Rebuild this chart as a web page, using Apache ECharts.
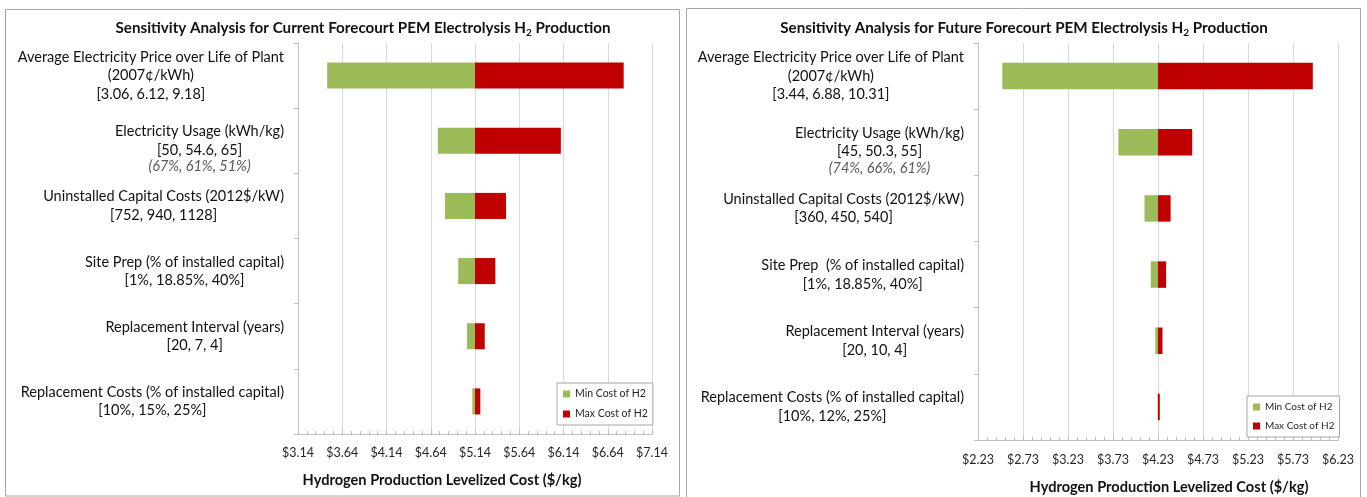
<!DOCTYPE html>
<html><head><meta charset="utf-8">
<script src="https://cdn.jsdelivr.net/npm/echarts@6/dist/echarts.min.js"></script>
<style>html,body{margin:0;padding:0;background:#fff}#c{width:1367px;height:497px}</style>
</head><body><div id="c"></div>
<script>
// ---------- DATA ----------
const leftTitle = 'Sensitivity Analysis for Current Forecourt PEM Electrolysis H{s|2} Production';
const rightTitle = 'Sensitivity Analysis for Future Forecourt PEM Electrolysis H{s|2} Production';
const axisTitle = 'Hydrogen Production Levelized Cost ($/kg)';
const legendNames = ['Min Cost of H2', 'Max Cost of H2'];

const leftCategories = [
  'Average Electricity Price over Life of Plant\n(2007¢/kWh)\n[3.06, 6.12, 9.18]',
  'Electricity Usage (kWh/kg)\n[50, 54.6, 65]',
  'Uninstalled Capital Costs (2012$/kW)\n[752, 940, 1128]',
  'Site Prep (% of installed capital)\n[1%, 18.85%, 40%]',
  'Replacement Interval (years)\n[20, 7, 4]',
  'Replacement Costs (% of installed capital)\n[10%, 15%, 25%]'
];
const leftNotes = ['', '(67%, 61%, 51%)', '', '', '', ''];
const leftBase = 5.14;
const leftMin = [3.47, 4.72, 4.80, 4.95, 5.05, 5.11];
const leftMax = [6.82, 6.11, 5.49, 5.37, 5.25, 5.20];
const leftTicks = [3.14, 3.64, 4.14, 4.64, 5.14, 5.64, 6.14, 6.64, 7.14];

const rightCategories = [
  'Average Electricity Price over Life of Plant\n(2007¢/kWh)\n[3.44, 6.88, 10.31]',
  'Electricity Usage (kWh/kg)\n[45, 50.3, 55]',
  'Uninstalled Capital Costs (2012$/kW)\n[360, 450, 540]',
  'Site Prep  (% of installed capital)\n[1%, 18.85%, 40%]',
  'Replacement Interval (years)\n[20, 10, 4]',
  'Replacement Costs (% of installed capital)\n[10%, 12%, 25%]'
];
const rightNotes = ['', '(74%, 66%, 61%)', '', '', '', ''];
const rightBase = 4.23;
const rightMin = [2.50, 3.79, 4.08, 4.15, 4.20, 4.225];
const rightMax = [5.95, 4.61, 4.37, 4.32, 4.28, 4.25];
const rightTicks = [2.23, 2.73, 3.23, 3.73, 4.23, 4.73, 5.23, 5.73, 6.23];

// ---------- STYLE ----------
const FONT = 'Lato';
const GREEN = '#9BBB59', RED = '#C00000';
const AXIS_GREY = '#bfbfbf', GRID_GREY = '#d9d9d9';

function catFormatter(cats, notes) {
  return function (value, index) {
    const i = cats.indexOf(value);
    const lines = value.split('\n').map(l => '{c|' + l + '}');
    if (notes[i]) return '{b| }\n' + lines.join('\n') + '\n{n|' + notes[i] + '}';
    return lines.join('\n');
  };
}
const labelRich = {
  c: {align: 'center', fontFamily: FONT, fontSize: 14.5, lineHeight: 18.5, color: '#111'},
  b: {align: 'center', fontFamily: FONT, fontSize: 14.5, lineHeight: 15},
  n: {align: 'center', fontFamily: FONT, fontSize: 14.5, lineHeight: 15, fontStyle: 'italic', color: '#595959'}
};

function xAxis(gi, ticks, margin) {
  return {
    type: 'value', gridIndex: gi,
    min: ticks[0], max: ticks[ticks.length - 1], interval: +(ticks[1] - ticks[0]).toFixed(2),
    axisLine: {show: true, lineStyle: {color: AXIS_GREY}},
    axisTick: {show: true, inside: true, length: 4, lineStyle: {color: AXIS_GREY}},
    minorTick: {show: true, splitNumber: 5, length: 3, lineStyle: {color: AXIS_GREY}},
    splitLine: {show: true, lineStyle: {color: GRID_GREY}},
    axisLabel: {fontFamily: FONT, fontSize: 12.5, color: '#262626', margin: margin,
      formatter: v => '$' + v.toFixed(2)}
  };
}
function yAxis(gi, cats, notes) {
  return {
    type: 'category', gridIndex: gi, data: cats, inverse: true,
    axisLine: {show: true, lineStyle: {color: AXIS_GREY}},
    axisTick: {show: true, length: 4, lineStyle: {color: AXIS_GREY}},
    splitLine: {show: false},
    axisLabel: {margin: 14, formatter: catFormatter(cats, notes), rich: labelRich, color: '#111'}
  };
}
function seriesFor(gi, stack, base, mins, maxs) {
  return [
    {type: 'bar', name: '_offset' + gi, xAxisIndex: gi, yAxisIndex: gi, stack: stack,
     data: mins, itemStyle: {color: 'rgba(0,0,0,0)'}, silent: true, barCategoryGap: '60%',
     emphasis: {disabled: true}},
    {type: 'bar', name: legendNames[0], xAxisIndex: gi, yAxisIndex: gi, stack: stack,
     data: mins.map(v => +(base - v).toFixed(4)), itemStyle: {color: GREEN}, barCategoryGap: '60%'},
    {type: 'bar', name: legendNames[1], xAxisIndex: gi, yAxisIndex: gi, stack: stack,
     data: maxs.map(v => +(v - base).toFixed(4)), itemStyle: {color: RED}, barCategoryGap: '60%'}
  ];
}
function legend(left, top, fs, gap) {
  return {
    left: left, top: top, orient: 'vertical', data: legendNames, icon: 'rect',
    itemWidth: 7, itemHeight: 7, itemGap: gap, itemTextGap: 4, padding: [4, 5, 4, 6],
    borderColor: '#a6a6a6', borderWidth: 1, backgroundColor: '#fff', selectedMode: false,
    textStyle: {fontFamily: FONT, fontSize: fs, color: '#262626', lineHeight: 14}
  };
}
function titleText(x, y, text, fs) {
  return {type: 'text', x: x, y: y, silent: true,
    style: {text: text, align: 'center', verticalAlign: 'middle', fill: '#111',
      fontFamily: FONT, fontWeight: 'bold', fontSize: fs, lineHeight: 20,
      rich: {s: {fontFamily: FONT, fontWeight: 'bold', fontSize: 10, lineHeight: 9, verticalAlign: 'bottom', fill: '#111'}}}};
}

const chart = echarts.init(document.getElementById('c'), null, {renderer: 'canvas'});
chart.setOption({
  animation: false,
  backgroundColor: '#fff',
  grid: [
    {left: 298, right: 715, top: 43, bottom: 63, containLabel: false},
    {left: 978, right: 29, top: 43, bottom: 57, containLabel: false}
  ],
  xAxis: [xAxis(0, leftTicks, 12), xAxis(1, rightTicks, 13)],
  yAxis: [yAxis(0, leftCategories, leftNotes), yAxis(1, rightCategories, rightNotes)],
  legend: [legend(557, 383, 10.5, 6), legend(1247, 396, 10, 5)],
  series: [].concat(
    seriesFor(0, 'L', leftBase, leftMin, leftMax),
    seriesFor(1, 'R', rightBase, rightMin, rightMax)
  ),
  graphic: [
    {type: 'rect', silent: true, shape: {x: 5.5, y: 9.5, width: 674, height: 486.5},
     style: {fill: 'none', stroke: '#a6a6a6', lineWidth: 1}},
    {type: 'rect', silent: true, shape: {x: 686.5, y: 8.5, width: 674, height: 500},
     style: {fill: 'none', stroke: '#a6a6a6', lineWidth: 1}},
    titleText(363, 28, leftTitle, 15.2),
    titleText(1024, 28, rightTitle, 15.2),
    titleText(442, 480, axisTitle, 14.6),
    titleText(1169, 487, axisTitle, 14.6)
  ]
});
</script></body></html>
